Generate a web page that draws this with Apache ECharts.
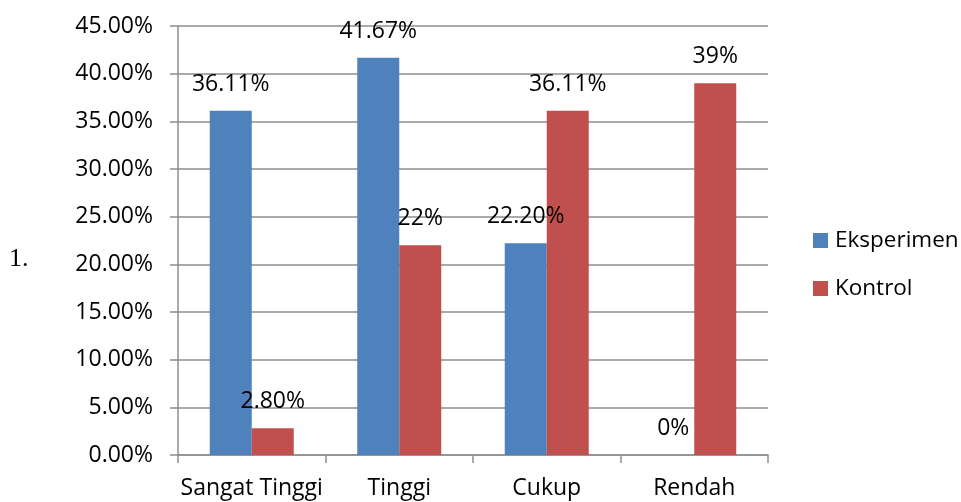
<!DOCTYPE html>
<html>
<head>
<meta charset="UTF-8">
<title>Eksperimen vs Kontrol</title>
<script src="https://cdn.jsdelivr.net/npm/echarts@6/dist/echarts.min.js"></script>
<style>
  html, body { margin: 0; padding: 0; background: #fff; }
  #main { width: 961px; height: 502px; }
</style>
</head>
<body>
<div id="main"></div>
<script>
var categories = ['Sangat Tinggi', 'Tinggi', 'Cukup', 'Rendah'];
var eksperimen = [36.11, 41.67, 22.20, 0];
var kontrol = [2.80, 22, 36.11, 39];
var eksperimenLabels = ['36.11%', '41.67%', '22.20%', '0%'];
var kontrolLabels = ['2.80%', '22%', '36.11%', '39%'];

var chart = echarts.init(document.getElementById('main'));
var font = 'Open Sans';
var gridColor = '#8e8e8e';

var labelStyle = {
    show: true,
    position: 'top',
    distance: 15,
    color: '#000',
    fontFamily: font,
    fontSize: 23,
    lineHeight: 23
};

chart.setOption({
    animation: false,
    grid: { left: 178, right: 193, top: 26, bottom: 47 },
    legend: {
        orient: 'vertical',
        left: 808,
        top: 224,
        itemWidth: 15,
        itemHeight: 15,
        itemGap: 25,
        icon: 'rect',
        textStyle: { fontFamily: font, fontSize: 22.5, lineHeight: 23, color: '#000', padding: [0, 0, 0, 2] },
        data: ['Eksperimen', 'Kontrol']
    },
    xAxis: {
        type: 'category',
        data: categories,
        axisLine: { lineStyle: { color: gridColor, width: 1.5 } },
        axisTick: { show: true, interval: 0, length: 8, lineStyle: { color: gridColor, width: 1.5 } },
        axisLabel: { interval: 0, margin: 22, color: '#000', fontFamily: font, fontSize: 23 }
    },
    yAxis: {
        type: 'value',
        min: 0,
        max: 45,
        interval: 5,
        axisLine: { show: true, lineStyle: { color: gridColor, width: 1.5 } },
        axisTick: { show: true, length: 8, lineStyle: { color: gridColor, width: 1.5 } },
        splitLine: { lineStyle: { color: gridColor, width: 1.5 } },
        axisLabel: {
            margin: 25,
            color: '#000',
            fontFamily: font,
            fontSize: 23,
            formatter: function (v) { return v.toFixed(2) + '%'; }
        }
    },
    series: [
        {
            name: 'Eksperimen',
            type: 'bar',
            data: eksperimen,
            barWidth: 42,
            barGap: '0%',
            itemStyle: { color: '#4F81BD' },
            label: Object.assign({}, labelStyle, {
                formatter: function (p) { return eksperimenLabels[p.dataIndex]; }
            })
        },
        {
            name: 'Kontrol',
            type: 'bar',
            data: kontrol,
            barWidth: 42,
            barGap: '0%',
            itemStyle: { color: '#C0504D' },
            label: Object.assign({}, labelStyle, {
                formatter: function (p) { return kontrolLabels[p.dataIndex]; }
            })
        }
    ],
    graphic: [{
        type: 'text',
        left: 9,
        top: 246,
        style: { text: '1.', fontFamily: 'Liberation Serif', fontSize: 26, fill: '#000' }
    }]
});
</script>
</body>
</html>
